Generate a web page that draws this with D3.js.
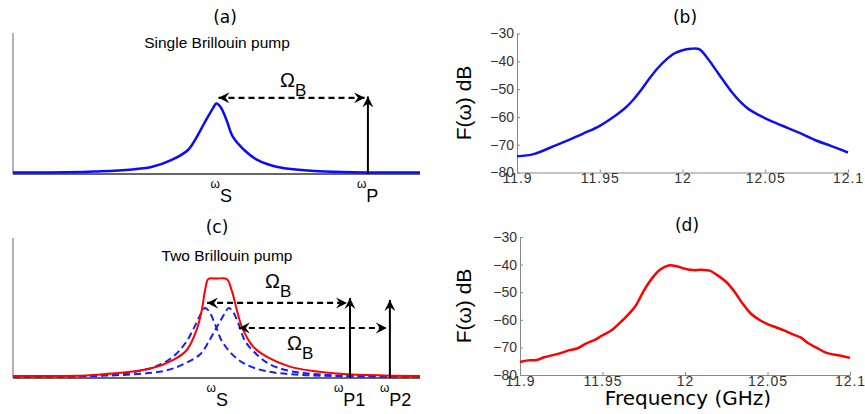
<!DOCTYPE html>
<html>
<head>
<meta charset="utf-8">
<script src="https://cdn.jsdelivr.net/npm/d3@7"></script>
<style>
  body { margin: 0; background: #fff; }
  text { font-family: "Liberation Sans", Arial, sans-serif; }
</style>
</head>
<body>
<svg id="fig"></svg>
<script>
// ---- schematic panels (a) and (c): arbitrary frequency 0..100, gain 0..1
var singleX    = [0, 20, 34, 39, 43, 45, 47, 49, 50, 51, 52.5, 54, 57, 60, 65, 75, 100];
var singleGain = [0.01, 0.017, 0.05, 0.1, 0.17, 0.255, 0.36, 0.46, 0.5, 0.475, 0.38, 0.265, 0.165, 0.1, 0.05, 0.02, 0.01];
var pumpA = 87.2;

var twoX    = [0, 21, 34, 39.4, 42.7, 45.1, 46.4, 47.2, 48, 50, 52.5, 53.7, 55, 56.2, 59, 62.3, 68, 78.7, 100];
var twoGain = [0.014, 0.024, 0.069, 0.129, 0.2, 0.343, 0.486, 0.629, 0.707, 0.71, 0.707, 0.629, 0.486, 0.367, 0.224, 0.152, 0.081, 0.034, 0.014];
var lowX    = [0, 20, 31, 36.5, 40, 42.5, 44.5, 46.2, 47.2, 48.2, 49.7, 51.3, 54, 57, 62, 72, 100];
var lowGain = [0.01, 0.017, 0.05, 0.1, 0.17, 0.255, 0.36, 0.46, 0.5, 0.475, 0.38, 0.265, 0.165, 0.1, 0.05, 0.02, 0.01];
var highX    = [0, 23, 37, 42, 46, 48, 50, 52, 53, 54, 55.5, 57, 60, 63, 68, 78, 100];
var highGain = [0.01, 0.017, 0.05, 0.1, 0.17, 0.255, 0.36, 0.46, 0.5, 0.475, 0.38, 0.265, 0.165, 0.1, 0.05, 0.02, 0.01];
var pumpsC = [82.8, 92.6];
var pumpTopC = [0.571, 0.557];
var arrowStartC = [47.2, 55];
var arrowLevelC = [0.536, 0.357];

// ---- measured panels (b) and (d)
var freqB = [11.9, 11.91, 11.92, 11.93, 11.94, 11.95, 11.96, 11.965, 11.97, 11.975, 11.98, 11.985, 11.99, 11.995,
             12.0, 12.005, 12.01, 12.015, 12.02, 12.025, 12.03, 12.035, 12.04, 12.045, 12.05, 12.06, 12.07, 12.08, 12.09, 12.1];
var dbB   = [-74.2, -73.4, -71.1, -68.6, -66, -63.2, -59.3, -57, -54, -50.3, -46.2, -42.5, -39.5, -37.2,
             -36, -35.5, -35.6, -38.8, -43, -47.2, -51.2, -54.6, -57.2, -59, -60.5, -63.1, -65.6, -68.3, -70.5, -72.8];

var freqD = [11.9, 11.905, 11.91, 11.915, 11.92, 11.925, 11.93, 11.935, 11.94, 11.945, 11.95, 11.955, 11.96, 11.965,
             11.97, 11.975, 11.98, 11.985, 11.99, 11.995, 12.0, 12.005, 12.01, 12.015, 12.02, 12.025, 12.03, 12.035,
             12.04, 12.045, 12.05, 12.055, 12.06, 12.065, 12.07, 12.075, 12.08, 12.085, 12.09, 12.095, 12.1];
var dbD   = [-75.3, -74.7, -74.6, -73.5, -72.8, -72.0, -71.0, -70.3, -68.6, -67.4, -65.6, -64.0, -61.4, -58.5,
             -55, -49.5, -45, -41.8, -40.3, -40.6, -41.5, -42, -41.9, -42.2, -44, -46.3, -49.8, -54.2,
             -57.8, -60, -61.6, -62.7, -63.8, -65.2, -66.4, -68.6, -70.2, -71.8, -72.6, -73.1, -73.8];

var freqTicks = [11.9, 11.95, 12, 12.05, 12.1];
var dbTicks = [-30, -40, -50, -60, -70, -80];

var svg = d3.select('#fig')
  .attr('width', 865)
  .attr('height', 414);

svg.append('rect').attr('width', 865).attr('height', 414).attr('fill', '#fff');

// arrow head marker
var defs = svg.append('defs');
defs.append('marker')
  .attr('id', 'head')
  .attr('viewBox', '-11 -6 13 12')
  .attr('refX', 0).attr('refY', 0)
  .attr('markerWidth', 13).attr('markerHeight', 12)
  .attr('markerUnits', 'userSpaceOnUse')
  .attr('orient', 'auto-start-reverse')
  .append('path')
    .attr('d', 'M-11,-5.5 L0,0 L-11,5.5 L-7,0 Z')
    .attr('fill', '#000');

function zip(xs, ys) {
  return xs.map(function(x, i) { return [x, ys[i]]; });
}

// ---------- schematic panel
function schematic(opt) {
  var x = d3.scaleLinear().domain([0, 100]).range([13, 420]);
  var y = d3.scaleLinear().domain([0, 1]).range([opt.base, opt.top]);
  var g = svg.append('g');

  var line = d3.line()
    .x(function(d) { return x(d[0]); })
    .y(function(d) { return y(d[1]); })
    .curve(d3.curveCatmullRom.alpha(0.5));

  // axes
  g.append('line').attr('x1', 13).attr('x2', 13).attr('y1', opt.top).attr('y2', opt.base)
    .attr('stroke', '#666').attr('stroke-width', 1);
  g.append('line').attr('x1', 13).attr('x2', 420).attr('y1', opt.base).attr('y2', opt.base)
    .attr('stroke', '#333').attr('stroke-width', 1.5);

  opt.curves.forEach(function(c) {
    g.append('path')
      .datum(zip(c.x, c.y))
      .attr('d', line)
      .attr('fill', 'none')
      .attr('stroke', c.color)
      .attr('stroke-width', c.width)
      .attr('stroke-dasharray', c.dash || null);
  });

  // pumps
  opt.pumps.forEach(function(p) {
    g.append('line')
      .attr('x1', x(p.at)).attr('x2', x(p.at))
      .attr('y1', y(0)).attr('y2', y(p.top))
      .attr('stroke', '#000').attr('stroke-width', 2)
      .attr('marker-end', 'url(#head)');
  });

  // Omega_B arrows
  opt.arrows.forEach(function(a) {
    g.append('line')
      .attr('x1', x(a.from) + 2).attr('x2', x(a.to) - 3)
      .attr('y1', y(a.level)).attr('y2', y(a.level))
      .attr('stroke', '#000').attr('stroke-width', 2.2)
      .attr('stroke-dasharray', '6,4')
      .attr('marker-start', 'url(#head)')
      .attr('marker-end', 'url(#head)');
    var t = g.append('text')
      .attr('x', a.lx).attr('y', a.ly)
      .attr('font-size', 20)
      .text('Ω');
    t.append('tspan').attr('dy', 9).attr('font-size', 17).text('B');
  });

  // omega labels under the axis
  opt.labels.forEach(function(l) {
    var t = g.append('text')
      .attr('x', x(l.at) + l.dx).attr('y', opt.base + 14)
      .attr('font-size', 12)
      .text('ω');
    t.append('tspan').attr('dy', 14).attr('font-size', 18).text(l.sub);
  });

  g.append('text')
    .attr('x', opt.titleX).attr('y', opt.titleY)
    .attr('text-anchor', 'middle')
    .style('font-family', '"DejaVu Sans", sans-serif')
    .attr('font-size', 17)
    .text(opt.title);

  g.append('text')
    .attr('x', opt.subX).attr('y', opt.subY)
    .attr('text-anchor', 'middle')
    .attr('font-size', 15.5)
    .text(opt.sub);
}

schematic({
  base: 174, top: 33,
  title: '(a)', titleX: 225, titleY: 23,
  sub: 'Single Brillouin pump', subX: 217, subY: 48,
  curves: [{x: singleX, y: singleGain, color: '#0a0aff', width: 2.5}],
  pumps: [{at: pumpA, top: 0.55}],
  arrows: [{from: 50, to: pumpA, level: 0.54, lx: 280, ly: 87}],
  labels: [{at: 50, dx: -6, sub: 'S'}, {at: pumpA, dx: -11, sub: 'P'}]
});

schematic({
  base: 378, top: 238,
  title: '(c)', titleX: 217, titleY: 233,
  sub: 'Two Brillouin pump', subX: 227, subY: 261,
  curves: [
    {x: lowX, y: lowGain, color: '#1a1aff', width: 2, dash: '7,4'},
    {x: highX, y: highGain, color: '#1a1aff', width: 2, dash: '7,4'},
    {x: twoX, y: twoGain, color: '#ff0000', width: 2}
  ],
  pumps: [{at: pumpsC[0], top: pumpTopC[0]}, {at: pumpsC[1], top: pumpTopC[1]}],
  arrows: [
    {from: arrowStartC[0], to: pumpsC[0], level: arrowLevelC[0], lx: 265, ly: 288},
    {from: arrowStartC[1], to: pumpsC[1], level: arrowLevelC[1], lx: 287, ly: 350}
  ],
  labels: [{at: 50, dx: -10, sub: 'S'}, {at: pumpsC[0], dx: -16, sub: 'P1'}, {at: pumpsC[1], dx: -10, sub: 'P2'}]
});

// ---------- measured spectrum panel
function spectrum(opt) {
  var x = d3.scaleLinear().domain([11.9, 12.1]).range([opt.left, opt.right]);
  var y = d3.scaleLinear().domain([-80, -30]).range([opt.bottom, opt.top]);
  var g = svg.append('g');

  var yAxis = g.append('g')
    .attr('transform', 'translate(' + opt.left + ',0)')
    .call(d3.axisLeft(y).tickValues(dbTicks).tickSizeInner(-3).tickSizeOuter(0).tickPadding(3));
  var xAxis = g.append('g')
    .attr('transform', 'translate(0,' + opt.bottom + ')')
    .call(d3.axisBottom(x).tickValues(freqTicks).tickSizeInner(-3).tickSizeOuter(0).tickPadding(1)
      .tickFormat(function(d) { return String(d); }));

  [yAxis, xAxis].forEach(function(a) {
    a.select('.domain').attr('stroke', '#888');
    a.selectAll('.tick line').attr('stroke', '#888');
    a.selectAll('.tick text')
      .attr('fill', '#333')
      .attr('font-size', 14)
      .style('font-family', '"Liberation Sans", Arial, sans-serif');
  });
  xAxis.selectAll('.tick text').style('letter-spacing', '1px');

  g.append('path')
    .datum(zip(opt.freq, opt.db))
    .attr('d', d3.line()
      .x(function(d) { return x(d[0]); })
      .y(function(d) { return y(d[1]); })
      .curve(d3.curveCatmullRom.alpha(0.5)))
    .attr('fill', 'none')
    .attr('stroke', opt.color)
    .attr('stroke-width', 2.5);

  g.append('text')
    .attr('transform', 'translate(' + 471 + ',' + ((opt.top + opt.bottom) / 2) + ') rotate(-90)')
    .attr('text-anchor', 'middle')
    .attr('font-size', 21)
    .text('F(ω) dB');

  g.append('text')
    .attr('x', opt.titleX).attr('y', opt.titleY)
    .attr('text-anchor', 'middle')
    .style('font-family', '"DejaVu Sans", sans-serif')
    .attr('font-size', 17)
    .text(opt.title);
}

spectrum({
  left: 517, right: 848, top: 33.5, bottom: 172.5,
  freq: freqB, db: dbB, color: '#1010ee',
  title: '(b)', titleX: 685, titleY: 23
});

spectrum({
  left: 520, right: 850, top: 237, bottom: 375,
  freq: freqD, db: dbD, color: '#ff0000',
  title: '(d)', titleX: 687, titleY: 231
});

svg.append('text')
  .attr('x', 688).attr('y', 405)
  .attr('text-anchor', 'middle')
  .style('font-family', '"DejaVu Sans", sans-serif')
  .attr('font-size', 20)
  .text('Frequency (GHz)');
</script>
</body>
</html>
